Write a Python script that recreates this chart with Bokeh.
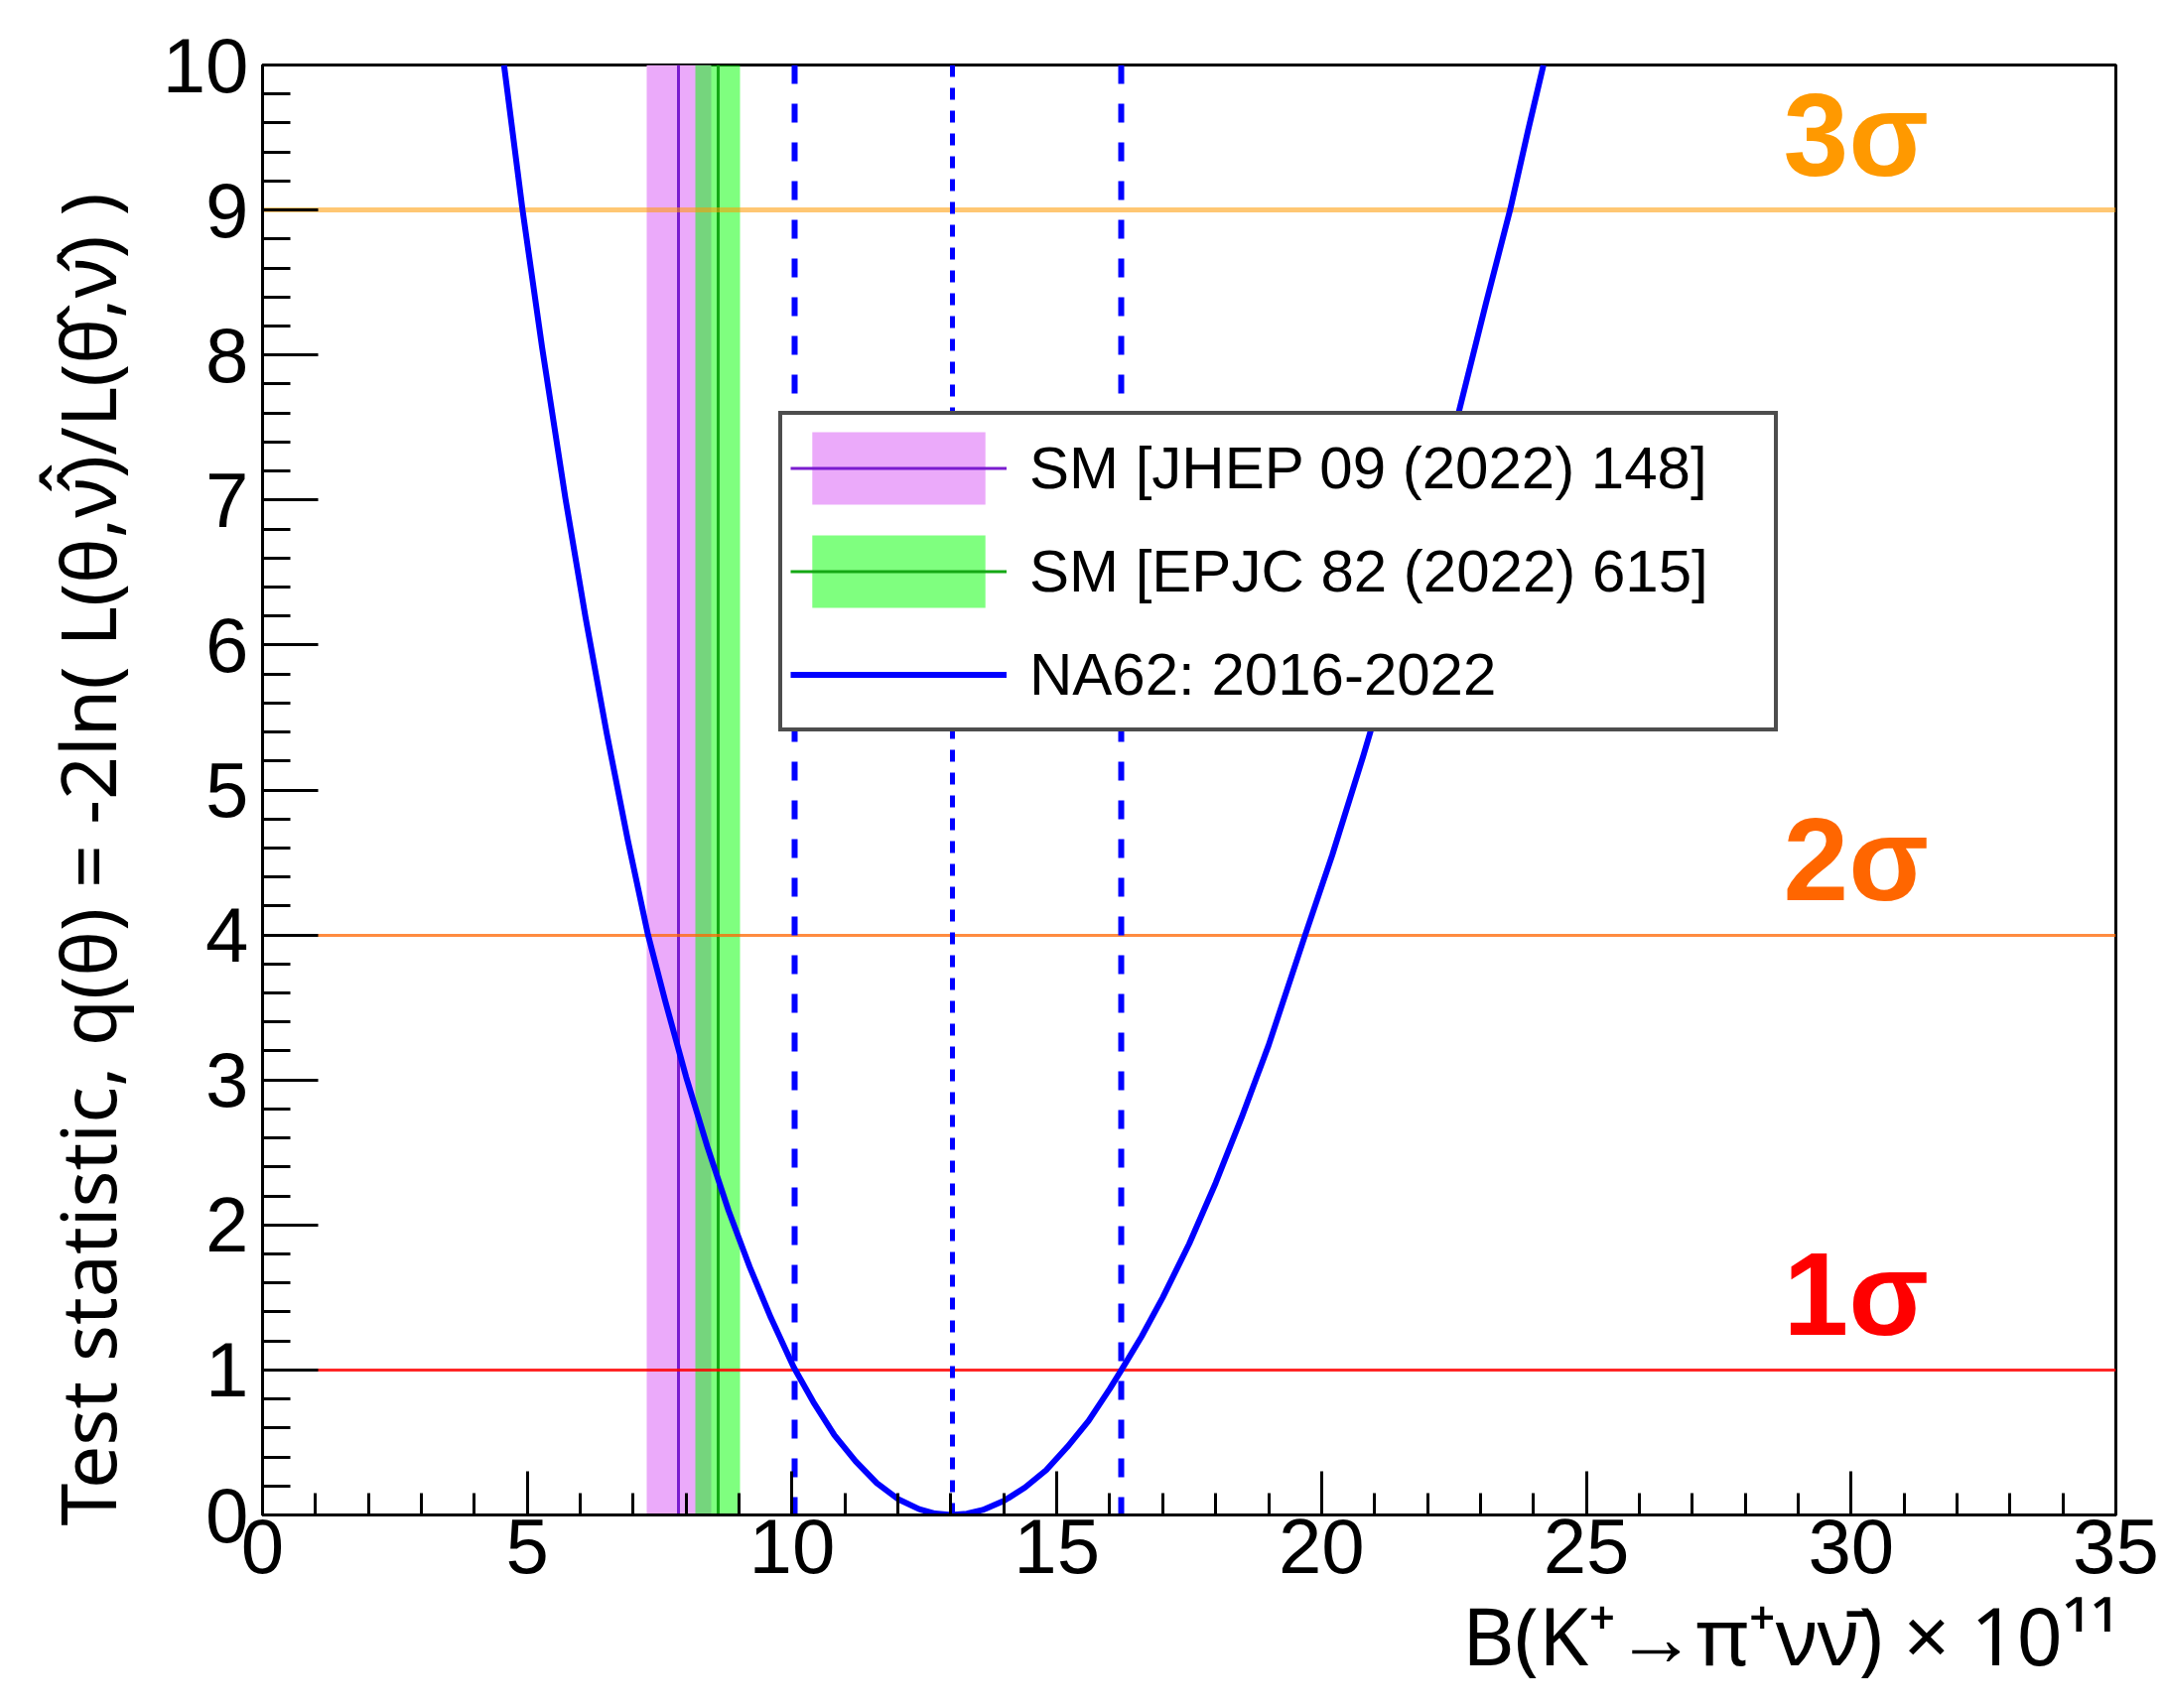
import numpy as np
from bokeh.plotting import figure
from bokeh.models import Range1d, FixedTicker, Legend, LegendItem, Title
from bokeh.core.properties import value
from bokeh.embed import file_html
from bokeh.resources import INLINE

# ---------------- data ----------------
br_x = [4.56, 4.91, 5.28, 5.72, 6.1, 6.5, 6.9, 7.28, 7.6, 8.0, 8.4, 8.8, 9.2, 9.6,
        10.03, 10.4, 10.8, 11.2, 11.6, 12.0, 12.4, 12.7, 13.0, 13.3, 13.6, 14.0,
        14.4, 14.8, 15.2, 15.6, 16.0, 16.22, 16.6, 17.0, 17.5, 18.0, 18.5, 19.0,
        19.69, 20.2, 20.8, 21.4, 22.0, 22.6, 23.1, 23.56, 23.9, 24.19]
q_val = [10.0, 9.0, 8.05, 7.01, 6.19, 5.39, 4.65, 4.0, 3.55, 3.02, 2.54, 2.10, 1.71, 1.36,
         1.02, 0.78, 0.55, 0.37, 0.22, 0.11, 0.04, 0.01, 0.0, 0.009, 0.035, 0.097,
         0.19, 0.31, 0.47, 0.65, 0.87, 1.0, 1.23, 1.50, 1.87, 2.29, 2.75, 3.24,
         4.0, 4.55, 5.25, 5.99, 6.78, 7.62, 8.35, 9.0, 9.55, 10.0]

sm_jhep = [7.86, 0.61]      # central, uncertainty
sm_epjc = [8.60, 0.42]
na62_interval = [10.05, 16.22]
na62_best = [13.02]

sigma_levels = [1, 4, 9]
sigma_text = ["1σ", "2σ", "3σ"]

x_ticks = [0, 5, 10, 15, 20, 25, 30, 35]
y_ticks = [0, 1, 2, 3, 4, 5, 6, 7, 8, 9, 10]

legend_labels = ["SM [JHEP 09 (2022) 148]", "SM [EPJC 82 (2022) 615]", "NA62: 2016-2022"]
x_title = "B(K⁺→π⁺νν̄) × 10¹¹"
y_title = "Test statistic, q(θ) = -2ln( L(θ,ν̂̂)/L(θ̂,ν̂) )"

# ---------------- style ----------------
FONT = "Liberation Sans"
TITLE_FONT = "Noto Sans"
sigma_text_colors = ["#FF0000", "#FF6600", "#FF9900"]
sigma_line_colors = ["#FF0000", "#FF6600", "#FF9900"]
sigma_line_alpha = [0.85, 0.75, 0.55]
sigma_line_width = [3, 3, 5]
label_lift = 0.52

p = figure(width=2181, height=1721, output_backend="svg", toolbar_location=None,
           x_range=Range1d(x_ticks[0], x_ticks[-1]), y_range=Range1d(y_ticks[0], y_ticks[-1]),
           min_border_left=264, min_border_right=50, min_border_top=65, min_border_bottom=195,
           background_fill_color="white", border_fill_color="white")
p.grid.visible = False
p.outline_line_color = "black"
p.outline_line_width = 3

# axes
xa = p.xaxis[0]
xa.ticker = FixedTicker(ticks=x_ticks, minor_ticks=list(np.arange(x_ticks[0], x_ticks[-1] + 0.001, 1.0)))
xa.major_tick_in = 44
xa.major_tick_out = 0
xa.minor_tick_in = 22
xa.minor_tick_out = 0
xa.major_tick_line_width = 3
xa.minor_tick_line_width = 3
xa.major_tick_line_color = "black"
xa.minor_tick_line_color = "black"
xa.axis_line_width = 3
xa.axis_line_color = "black"
xa.major_label_text_font = FONT
xa.major_label_text_font_size = "78px"
xa.major_label_text_color = "black"
xa.major_label_standoff = 4

ya = p.yaxis[0]
ya.ticker = FixedTicker(ticks=y_ticks, minor_ticks=list(np.arange(y_ticks[0], y_ticks[-1] + 0.001, 0.2)))
ya.major_tick_in = 56
ya.major_tick_out = 0
ya.minor_tick_in = 28
ya.minor_tick_out = 0
ya.major_tick_line_width = 3
ya.minor_tick_line_width = 3
ya.major_tick_line_color = "black"
ya.minor_tick_line_color = "black"
ya.axis_line_width = 3
ya.axis_line_color = "black"
ya.major_label_text_font = FONT
ya.major_label_text_font_size = "78px"
ya.major_label_text_color = "black"
ya.major_label_standoff = 14

# axis titles (ROOT style: aligned toward the axis end)
p.add_layout(Title(text=x_title, align="right", offset=-3, standoff=2,
                   text_font=TITLE_FONT, text_font_size="81px", text_font_style="normal",
                   text_color="black"), "below")
p.add_layout(Title(text=y_title, align="left", offset=-11, standoff=42,
                   text_font=TITLE_FONT, text_font_size="77px", text_font_style="normal",
                   text_color="black"), "left")

# SM bands
jhep_band = p.vstrip(x0=[sm_jhep[0] - sm_jhep[1]], x1=[sm_jhep[0] + sm_jhep[1]],
                     fill_color="#EBAAFA", fill_alpha=1.0, line_color=None)
jhep_line = p.vspan(x=[sm_jhep[0]], line_color="#7A1CCF", line_width=3)
epjc_band = p.vstrip(x0=[sm_epjc[0] - sm_epjc[1]], x1=[sm_epjc[0] + sm_epjc[1]],
                     fill_color="#00FF00", fill_alpha=0.5, line_color=None)
epjc_line = p.vspan(x=[sm_epjc[0]], line_color="#14A814", line_width=3)

# sigma lines
for lvl, c, a, w in zip(sigma_levels, sigma_line_colors, sigma_line_alpha, sigma_line_width):
    p.hspan(y=[lvl], line_color=c, line_alpha=a, line_width=w)

# NA62 interval lines
p.vspan(x=na62_interval, line_color="#0000FF", line_width=6, line_dash="19 20")
p.vspan(x=na62_best, line_color="#0000FF", line_width=5, line_dash="12 11")

# NA62 curve
curve = p.line(br_x, q_val, line_color="#0000FF", line_width=6, line_join="round")

# sigma labels
p.text(x=[28.72] * len(sigma_levels), y=[lvl + label_lift for lvl in sigma_levels], text=sigma_text,
       text_color=sigma_text_colors, text_font=value(FONT), text_font_size="118px",
       text_font_style="bold", text_baseline="middle", text_align="left")

legend = Legend(items=[LegendItem(label=legend_labels[0], renderers=[jhep_band, jhep_line]),
                       LegendItem(label=legend_labels[1], renderers=[epjc_band, epjc_line]),
                       LegendItem(label=legend_labels[2], renderers=[curve])],
                location=(520, 789), glyph_width=218, glyph_height=91, spacing=13,
                padding=8, margin=0, label_standoff=23, label_width=742,
                label_text_font=FONT, label_text_font_size="60px", label_text_color="black",
                border_line_color="#4D4D4D", border_line_width=4, border_line_alpha=1.0,
                background_fill_color="white", background_fill_alpha=1.0)
p.add_layout(legend)

open("out.html", "w").write(file_html(p, INLINE))
